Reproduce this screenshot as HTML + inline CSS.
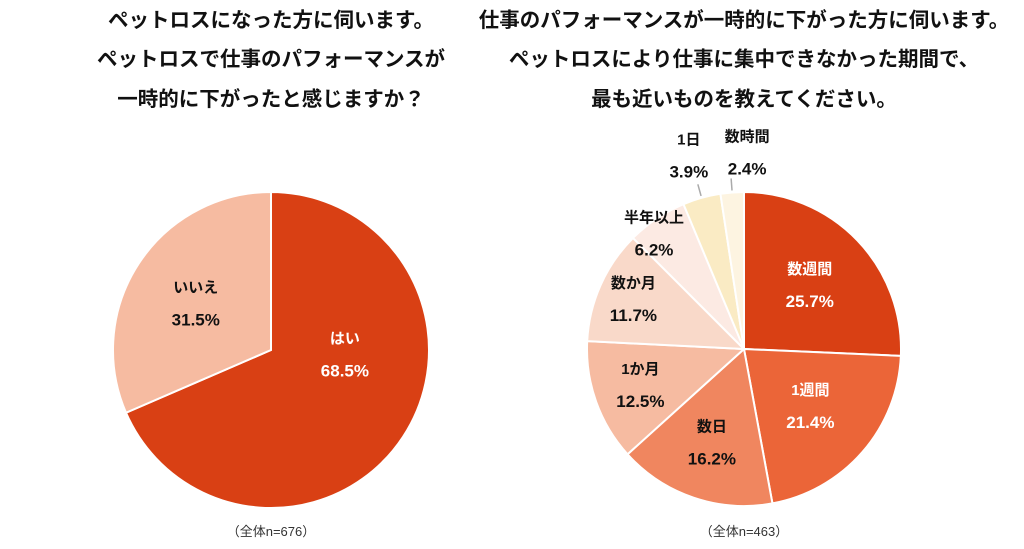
<!DOCTYPE html>
<html><head><meta charset="utf-8"><style>
body{margin:0;background:#fff;width:1024px;height:544px;overflow:hidden;font-family:"Liberation Sans","Noto Sans CJK JP",sans-serif}
svg text{font-family:"Liberation Sans","Noto Sans CJK JP",sans-serif}
</style></head><body>
<svg id="c" width="1024" height="544">
<g font-weight="bold" font-size="20.5" text-anchor="middle" fill="#111">
<text x="271" y="27">ペットロスになった方に伺います。</text>
<text x="271" y="66">ペットロスで仕事のパフォーマンスが</text>
<text x="271" y="106">一時的に下がったと感じますか？</text>
</g>
<g font-weight="bold" font-size="20.5" text-anchor="middle" fill="#111">
<text x="744" y="27">仕事のパフォーマンスが一時的に下がった方に伺います。</text>
<text x="744" y="66">ペットロスにより仕事に集中できなかった期間で、</text>
<text x="744" y="106">最も近いものを教えてください。</text>
</g>
<text x="271" y="536" font-size="13" text-anchor="middle" fill="#333">（全体n=676）</text>
<text x="744" y="536" font-size="13" text-anchor="middle" fill="#333">（全体n=463）</text>
</svg>
<script>
const leftCats=["はい","いいえ"];
const leftVals=[68.5,31.5];
const rightCats=["数週間","1週間","数日","1か月","数か月","半年以上","1日","数時間"];
const rightVals=[25.7,21.4,16.2,12.5,11.7,6.2,3.9,2.4];
const NS="http://www.w3.org/2000/svg";
const svg=document.getElementById('c');
function pt(cx,cy,r,f){const a=f*2*Math.PI;return [cx+r*Math.sin(a),cy-r*Math.cos(a)];}
function drawPie(name,cats,vals,cx,cy,r,colors,labelR,textColors,outside,nudge){
  const tot=vals.reduce((a,b)=>a+b,0);let acc=0;
  const g=document.createElementNS(NS,'g');
  
  
  svg.appendChild(g);
  vals.forEach((v,i)=>{
    const f0=acc/tot,f1=(acc+v)/tot;acc+=v;
    const p0=pt(cx,cy,r,f0),p1=pt(cx,cy,r,f1);
    const p=document.createElementNS(NS,'path');
    p.setAttribute('d',`M${cx},${cy}L${p0[0]},${p0[1]}A${r},${r} 0 ${f1-f0>0.5?1:0} 1 ${p1[0]},${p1[1]}Z`);
    p.setAttribute('fill',colors[i]);p.setAttribute('stroke','#fff');p.setAttribute('stroke-width','2');
    
    
    g.appendChild(p);
    const fm=(f0+f1)/2;
    let lp=pt(cx,cy,labelR[i],fm);
    if(outside&&outside[i]){
      const a=pt(cx,cy,r+2,fm),b=pt(cx,cy,r+14,fm);
      const l=document.createElementNS(NS,'line');
      l.setAttribute('x1',a[0]);l.setAttribute('y1',a[1]);l.setAttribute('x2',b[0]);l.setAttribute('y2',b[1]);
      l.setAttribute('stroke','#aaa');l.setAttribute('stroke-width','1.5');
      
      
      g.appendChild(l);
      lp=[b[0]+outside[i],b[1]-30];
    }
    const n=nudge?nudge[i]:[0,0];
    lp=[lp[0]+n[0],lp[1]+n[1]];
    const t=document.createElementNS(NS,'text');
    t.setAttribute('x',lp[0]);t.setAttribute('y',lp[1]-12);
    t.setAttribute('text-anchor','middle');t.setAttribute('font-weight','bold');t.setAttribute('font-size','15');
    t.setAttribute('fill',textColors[i]);t.textContent=cats[i];
    
    
    g.appendChild(t);
    const t2=document.createElementNS(NS,'text');
    t2.setAttribute('x',lp[0]);t2.setAttribute('y',lp[1]+21);
    t2.setAttribute('text-anchor','middle');t2.setAttribute('font-weight','bold');t2.setAttribute('font-size','17');
    t2.setAttribute('fill',textColors[i]);t2.textContent=v.toFixed(1)+'%';
    
    
    g.appendChild(t2);
  });
}
drawPie('left-pie',leftCats,leftVals,271,350,158,['#D94014','#F6BBA1'],[92,90],['#fff','#111'],null,[[-3,-45],[0,4]]);
drawPie('right-pie',rightCats,rightVals,744,349,157,
 ['#D94014','#EB6538','#F0865F','#F6BBA1','#F9D9C9','#FCEAE3','#FAEBC4','#FDF4E1'],
 [91,88,100,110,121,140,150,150],
 ['#fff','#fff','#111','#111','#111','#111','#111','#111'],
 [0,0,0,0,0,0,-15,14],
 [[0,0],[0,0],[0,0],[0,0],[0,0],[-12,2],[6,2],[2,5]]);
</script>
</body></html>
